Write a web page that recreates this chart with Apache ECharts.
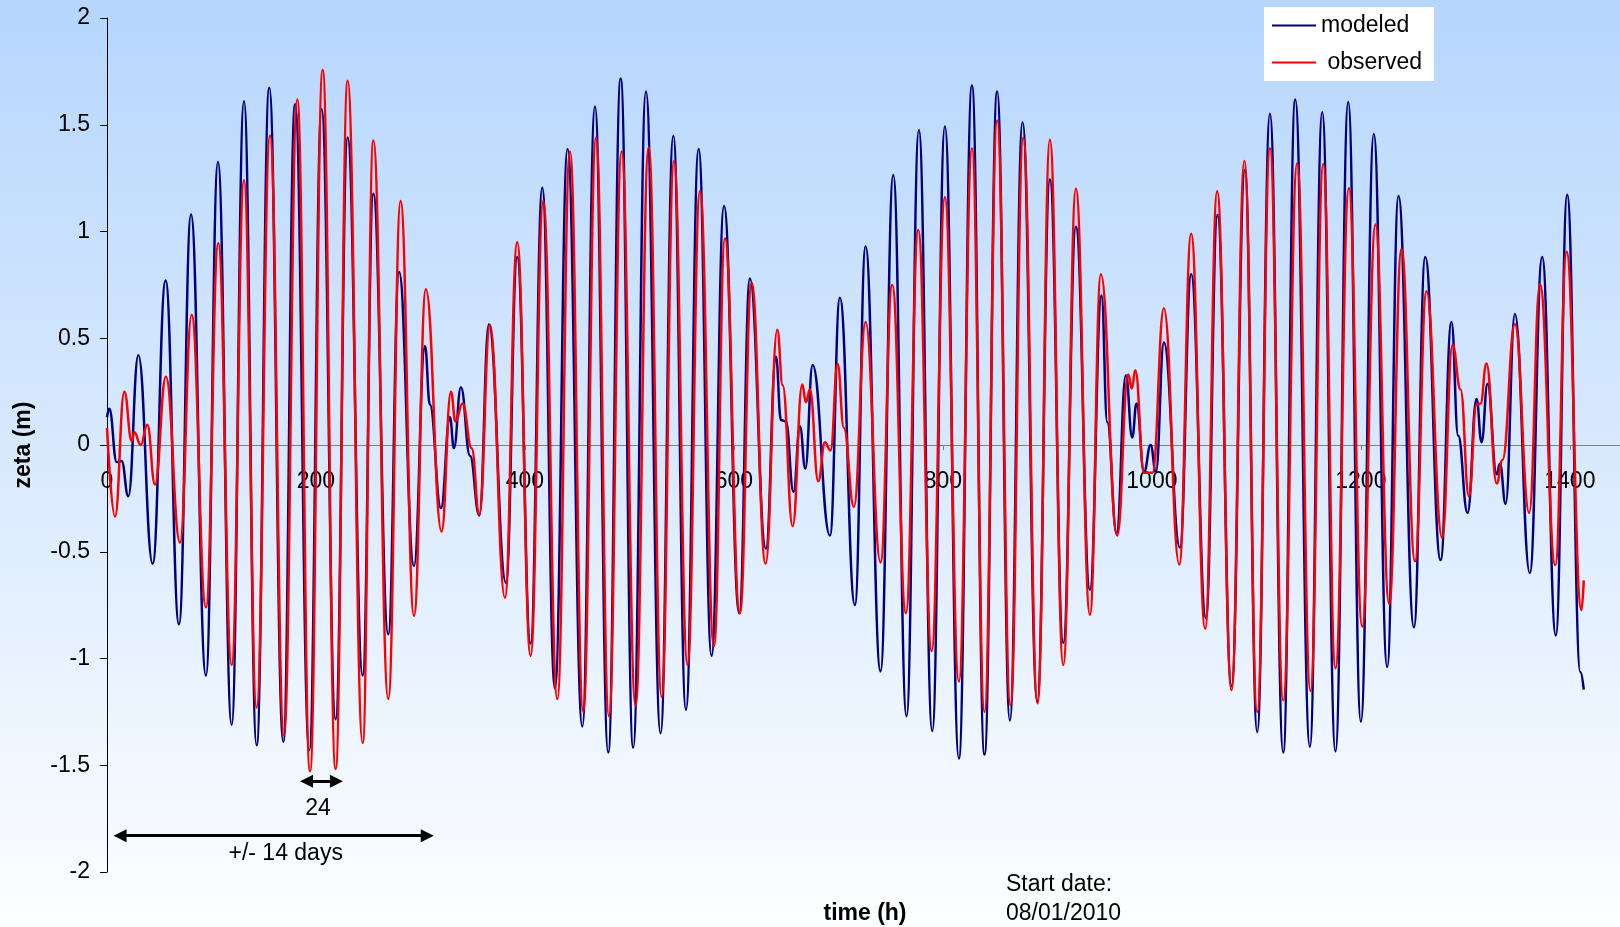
<!DOCTYPE html>
<html>
<head>
<meta charset="utf-8">
<title>zeta modeled vs observed</title>
<script src="https://cdn.jsdelivr.net/npm/echarts@6/dist/echarts.min.js"></script>
<style>
  html, body { margin: 0; padding: 0; }
  #chart {
    width: 1620px;
    height: 927px;
    background: linear-gradient(to bottom, #b6d6fd 0%, #fdfeff 100%);
  }
</style>
</head>
<body>
<div id="chart"></div>
<script>
// turning points: hour since start, zeta in m
const modeledHours = [
  0, 2.2, 9.3, 14, 20.4, 30, 43.7, 56.1, 68.9, 80.4, 94.7, 106.2, 119.3, 131.1, 143.2,
  155.3, 168.7, 180, 193.6, 205.4, 218.8, 230.3, 244.7, 254.9, 269.2, 279.5, 293.8,
  304.3, 309, 319.6, 328.2, 332, 338.7, 347.4, 356.3, 365.5, 381.8, 392.6, 405.4,
  416.6, 428.7, 440.8, 454.9, 467, 479.7, 491.6, 503.6, 515.8, 529.8, 542, 554.1,
  566.2, 578.6, 590.5, 605.1, 615.3, 630.6, 640.2, 645, 649.7, 657, 663.2, 668.3,
  675.3, 691.9, 701.4, 715.8, 726, 740.3, 752.5, 765.2, 777, 789.8, 801.9, 815.3,
  827.8, 839.8, 851.9, 864.1, 876.2, 890.3, 902.4, 915.2, 927.3, 940.7, 951.8, 957.3,
  966.2, 975.1, 981.2, 985.3, 992.5, 998.8, 1003.8, 1011.5, 1026.8, 1037.6, 1051.7,
  1062.8, 1076.2, 1089, 1100.8, 1113, 1125.7, 1137.2, 1151.2, 1163, 1175.7, 1187.9,
  1200, 1212.4, 1225.2, 1236, 1250.8, 1261.6, 1276.3, 1286.7, 1293.1, 1302.1, 1310.7,
  1315.5, 1321.2, 1330, 1333.1, 1338.5, 1347.4, 1361.7, 1373.5, 1386.6, 1397.5,
  1410.1, 1413.3
]
const modeledZeta = [
  0.13, 0.17, -0.08, -0.075, -0.24, 0.42, -0.556, 0.77, -0.84, 1.08, -1.08, 1.325, -1.31, 1.61, -1.406,
  1.673, -1.39, 1.596, -1.43, 1.574, -1.285, 1.44, -1.08, 1.177, -0.887, 0.81, -0.567,
  0.464, 0.19, -0.296, 0.13, -0.015, 0.27, -0.05, -0.33, 0.565, -0.645, 0.88, -0.93,
  1.205, -1.14, 1.386, -1.318, 1.585, -1.44, 1.717, -1.417, 1.656, -1.35, 1.448, -1.24,
  1.386, -0.987, 1.12, -0.788, 0.78, -0.486, 0.415, 0.117, 0.11, -0.22, 0.088, -0.11,
  0.375, -0.424, 0.69, -0.75, 0.93, -1.06, 1.265, -1.27, 1.475, -1.34, 1.492, -1.468,
  1.684, -1.45, 1.656, -1.29, 1.512, -1.2, 1.243, -0.927, 1.022, -0.678, 0.7, 0.106,
  -0.413, 0.327, 0.035, 0.194, -0.126, 0.0, -0.126, 0.48, -0.48, 0.8, -0.81,
  1.077, -1.13, 1.287, -1.344, 1.552, -1.44, 1.618, -1.413, 1.558, -1.435, 1.607,
  -1.296, 1.457, -1.04, 1.166, -0.854, 0.88, -0.539, 0.576, 0.044, -0.318, 0.216,
  0.013, 0.287, -0.137, -0.088, -0.276, 0.614, -0.6, 0.88, -0.892, 1.172,
  -1.064, -1.146
]
const observedHours = [
  0, 7.7, 16.6, 23.6, 26.2, 32.2, 38.6, 45.9, 56.4, 69.9, 81, 94.7, 106.5, 119.3, 131.1,
  143.2, 156, 169.4, 182.1, 194.3, 206.4, 218.8, 230.3, 244.7, 254.9, 269.2, 281, 293.8,
  305.2, 320.2, 329.2, 333.5, 340.3, 349, 356.3, 366.5, 380.8, 392.6, 405.4, 417.5,
  431, 443.1, 455.8, 468, 480.4, 492.5, 505.9, 518.4, 530.8, 542.6, 555.6, 567.5,
  580.9, 591.4, 605.7, 616.9, 630.3, 641.5, 646.6, 656.2, 665.4, 668.9, 672.7, 680.7,
  687.1, 692.5, 699.2, 705.2, 714.8, 726, 740.3, 751.5, 764.6, 776.4, 789.2, 801.9,
  815.3, 827.8, 839.8, 851.9, 864.7, 876.9, 890.6, 902.4, 915.2, 927.3, 940.7, 951.2,
  966.8, 977.3, 980.8, 984.1, 992.5, 1000.6, 1011.5, 1026.2, 1037.6, 1051, 1062.5,
  1076.2, 1088.6, 1100.8, 1113, 1125.7, 1139, 1151.8, 1164, 1175.7, 1188.5, 1201.3,
  1214, 1227.1, 1238.9, 1251.8, 1262.8, 1277.8, 1287.7, 1295.4, 1303.4, 1310.7, 1314.5,
  1320.2, 1330, 1335.5, 1347.4, 1361.1, 1371.4, 1386.1, 1396.9, 1411.1, 1413.3
]
const observedZeta = [
  0.08, -0.335, 0.25, 0.02, 0.06, 0.0, 0.095, -0.185, 0.32, -0.457, 0.61, -0.76, 0.945, -1.03, 1.24,
  -1.23, 1.45, -1.36, 1.618, -1.528, 1.757, -1.517, 1.706, -1.395, 1.426, -1.19, 1.143, -0.8,
  0.73, -0.406, 0.25, 0.11, 0.194, -0.015, -0.325, 0.563, -0.715, 0.95, -0.987, 1.143,
  -1.19, 1.375, -1.25, 1.44, -1.27, 1.375, -1.22, 1.395, -1.18, 1.33, -1.03, 1.19,
  -0.943, 0.967, -0.788, 0.76, -0.556, 0.54, 0.28, -0.38, 0.283, 0.2, 0.26, -0.17,
  0.013, -0.026, 0.38, 0.08, -0.29, 0.576, -0.55, 0.75, -0.788, 1.007, -0.965, 1.16,
  -1.108, 1.39, -1.25, 1.52, -1.22, 1.44, -1.21, 1.43, -1.03, 1.2, -0.795, 0.8,
  -0.424, 0.33, 0.265, 0.35, -0.13, -0.13, 0.64, -0.56, 0.99, -0.86, 1.188,
  -1.148, 1.33, -1.25, 1.39, -1.196, 1.32, -1.152, 1.316, -1.046, 1.203, -0.85,
  1.033, -0.744, 0.918, -0.545, 0.72, -0.435, 0.47, 0.26, -0.24, 0.19, 0.194,
  0.382, -0.18, -0.07, 0.565, -0.318, 0.753, -0.563, 0.905, -0.773, -0.634
]

// axis range
const xMin = 0
const xMax = 1448
const xStep = 200
const yMin = -2
const yMax = 2
const yStep = 0.5

const font = 'Liberation Sans, Arial, sans-serif'
const gridTop = 18
const gridBottom = 55
// lift the time axis from the bottom edge up to zeta = 0
const plotHeight = 927 - gridTop - gridBottom
const zeroLift = -plotHeight * (0 - yMin) / (yMax - yMin)

const pairs = (xs, ys) => xs.map((x, i) => [x, ys[i]])

const chart = echarts.init(document.getElementById('chart'))
chart.setOption({
  animation: false,
  textStyle: { fontFamily: font },
  grid: {
    left: 107, right: 0, top: gridTop, bottom: gridBottom,
    containLabel: false,
    outerBoundsMode: 'none'
  },
  legend: {
    data: ['modeled', 'observed'],
    orient: 'vertical',
    left: 1264,
    top: 7,
    backgroundColor: '#fff',
    padding: [7, 12, 7, 8],
    itemGap: 14,
    itemWidth: 44,
    itemHeight: 2,
    icon: 'rect',
    formatter: name => name === 'observed' ? ' ' + name : name,
    textStyle: { fontSize: 23, color: '#000', fontFamily: font }
  },
  xAxis: {
    type: 'value',
    min: xMin,
    max: xMax,
    interval: xStep,
    position: 'bottom',
    offset: zeroLift,
    axisLine: { onZero: false, lineStyle: { color: '#808080', width: 1 } },
    axisTick: { show: true, length: 5, lineStyle: { color: '#808080' } },
    axisLabel: {
      fontSize: 23,
      color: '#000',
      margin: 25,
      formatter: v => v % xStep === 0 ? String(v) : ''
    },
    splitLine: { show: false }
  },
  yAxis: {
    type: 'value',
    min: yMin,
    max: yMax,
    interval: yStep,
    name: 'zeta (m)',
    nameLocation: 'middle',
    nameGap: 72,
    nameTextStyle: { fontWeight: 'bold', fontSize: 23, color: '#000' },
    axisLine: { show: true, onZero: false, lineStyle: { color: '#000', width: 1 } },
    axisTick: { show: true, length: 7, lineStyle: { color: '#000' } },
    axisLabel: { fontSize: 23, color: '#000', margin: 17 },
    splitLine: { show: false }
  },
  graphic: [
    { type: 'text', x: 865, y: 914, style: { text: 'time (h)', font: 'bold 23px ' + font, align: 'center', verticalAlign: 'middle', fill: '#000' } },
    { type: 'text', x: 1006, y: 885, style: { text: 'Start date:', font: '23px ' + font, align: 'left', verticalAlign: 'middle', fill: '#000' } },
    { type: 'text', x: 1006, y: 914, style: { text: '08/01/2010', font: '23px ' + font, align: 'left', verticalAlign: 'middle', fill: '#000' } }
  ],
  series: [
    {
      name: 'modeled',
      type: 'line',
      data: pairs(modeledHours, modeledZeta),
      symbol: 'none',
      smooth: 0.45,
      smoothMonotone: 'x',
      lineStyle: { color: '#000080', width: 2.5 },
      itemStyle: { color: '#000080' },
      z: 2
    },
    {
      name: 'observed',
      type: 'line',
      data: pairs(observedHours, observedZeta),
      symbol: 'none',
      smooth: 0.45,
      smoothMonotone: 'x',
      lineStyle: { color: '#ff0000', width: 2.5 },
      itemStyle: { color: '#ff0000' },
      z: 3
    },
    {
      // arrows and their notes
      name: 'notes',
      type: 'line',
      data: [],
      z: 4,
      markLine: {
        silent: true,
        symbol: ['triangle', 'triangle'],
        symbolSize: 13,
        lineStyle: { color: '#000', width: 3, type: 'solid' },
        label: { show: false },
        data: [
          [{ coord: [191, -1.575] }, { coord: [219.6, -1.575] }],
          [{ coord: [12.5, -1.83] }, { coord: [306.5, -1.83] }]
        ]
      },
      markPoint: {
        silent: true,
        symbol: 'circle',
        symbolSize: 0,
        label: { show: true, position: 'inside', color: '#000', fontSize: 23, fontFamily: font, formatter: p => p.name },
        data: [
          { name: '24', coord: [202, -1.703] },
          { name: '+/- 14 days', coord: [171, -1.914] }
        ]
      }
    }
  ]
})
</script>
</body>
</html>
